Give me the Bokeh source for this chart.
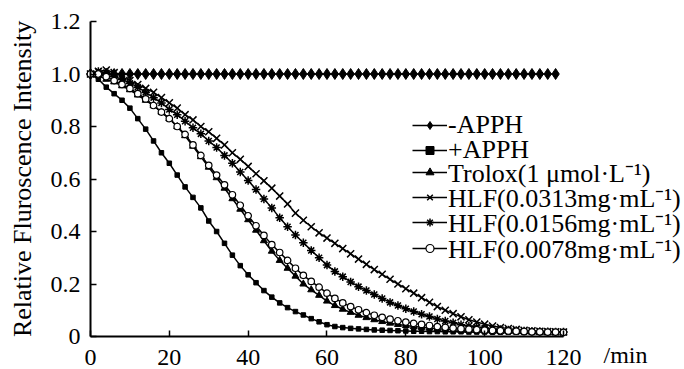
from bokeh.plotting import figure
from bokeh.models import FixedTicker, Legend, LegendItem, Label
from bokeh.embed import file_html
from bokeh.resources import INLINE

# ---------------- data ----------------
time_min = [0, 2, 4, 6, 8, 10, 12, 14, 16, 18, 20, 22, 24, 26, 28, 30, 32, 34, 36, 38, 40,
            42, 44, 46, 48, 50, 52, 54, 56, 58, 60, 62, 64, 66, 68, 70, 72, 74, 76, 78, 80,
            82, 84, 86, 88, 90, 92, 94, 96, 98, 100, 102, 104, 106, 108, 110, 112, 114, 116, 118, 120]

time_minus_appH = [0, 2, 4, 6, 8, 10, 12, 14, 16, 18, 20, 22, 24, 26, 28, 30, 32, 34, 36, 38, 40,
                   42, 44, 46, 48, 50, 52, 54, 56, 58, 60, 62, 64, 66, 68, 70, 72, 74, 76, 78, 80,
                   82, 84, 86, 88, 90, 92, 94, 96, 98, 100, 102, 104, 106, 108, 110, 112, 114, 116, 118]

minus_appH = [1.0, 1.0, 1.0, 1.0, 1.0, 1.0, 1.0, 1.0, 1.0, 1.0, 1.0, 1.0, 1.0, 1.0, 1.0,
              1.0, 1.0, 1.0, 1.0, 1.0, 1.0, 1.0, 1.0, 1.0, 1.0, 1.0, 1.0, 1.0, 1.0, 1.0,
              1.0, 1.0, 1.0, 1.0, 1.0, 1.0, 1.0, 1.0, 1.0, 1.0, 1.0, 1.0, 1.0, 1.0, 1.0,
              1.0, 1.0, 1.0, 1.0, 1.0, 1.0, 1.0, 1.0, 1.0, 1.0, 1.0, 1.0, 1.0, 1.0, 1.0]

plus_appH = [1.00, 0.98, 0.95, 0.925, 0.90, 0.87, 0.83, 0.79, 0.745, 0.70, 0.66, 0.615, 0.57, 0.53,
             0.49, 0.44, 0.40, 0.355, 0.31, 0.27, 0.235,
             0.205, 0.175, 0.15, 0.128, 0.11, 0.095, 0.082, 0.068, 0.056, 0.045, 0.038, 0.034,
             0.031, 0.029, 0.027, 0.025, 0.024, 0.023, 0.022, 0.021,
             0.020, 0.020, 0.019, 0.019, 0.018, 0.018, 0.018, 0.017, 0.017, 0.017, 0.016, 0.016,
             0.016, 0.016, 0.015, 0.015, 0.015, 0.015, 0.015, 0.015]

trolox = [1.00, 0.995, 0.98, 0.97, 0.955, 0.94, 0.92, 0.90, 0.88, 0.855, 0.83, 0.80, 0.765, 0.725,
          0.685, 0.645, 0.605, 0.565, 0.525, 0.485, 0.445,
          0.405, 0.365, 0.325, 0.29, 0.26, 0.23, 0.20, 0.178, 0.157, 0.135, 0.118, 0.104,
          0.092, 0.081, 0.072, 0.064, 0.057, 0.051, 0.046, 0.042,
          0.038, 0.035, 0.032, 0.030, 0.028, 0.026, 0.024, 0.023, 0.022, 0.021, 0.020, 0.019,
          0.019, 0.018, 0.018, 0.017, 0.017, 0.016, 0.016, 0.015]

hlf_0313 = [1.00, 1.01, 1.015, 1.005, 0.99, 0.975, 0.96, 0.945, 0.93, 0.91, 0.89, 0.87, 0.845, 0.825,
            0.80, 0.78, 0.755, 0.73, 0.70, 0.675, 0.648,
            0.62, 0.593, 0.565, 0.535, 0.505, 0.47, 0.443, 0.418, 0.395, 0.375, 0.355, 0.335,
            0.315, 0.295, 0.275, 0.255, 0.237, 0.218, 0.20, 0.182,
            0.165, 0.148, 0.13, 0.114, 0.10, 0.087, 0.075, 0.064, 0.055, 0.047, 0.04, 0.034,
            0.03, 0.027, 0.024, 0.022, 0.02, 0.019, 0.018, 0.017]

hlf_0156 = [1.00, 1.01, 1.005, 0.99, 0.98, 0.965, 0.95, 0.93, 0.91, 0.89, 0.865, 0.845, 0.82, 0.795,
            0.772, 0.745, 0.72, 0.69, 0.66, 0.627, 0.594,
            0.56, 0.524, 0.49, 0.452, 0.418, 0.387, 0.357, 0.328, 0.30, 0.272, 0.248, 0.228,
            0.208, 0.19, 0.175, 0.16, 0.145, 0.13, 0.118, 0.106,
            0.095, 0.085, 0.076, 0.067, 0.059, 0.052, 0.045, 0.04, 0.035, 0.032, 0.029, 0.027,
            0.025, 0.023, 0.021, 0.02, 0.019, 0.018, 0.017, 0.017]

hlf_0078 = [1.00, 1.00, 0.99, 0.975, 0.96, 0.945, 0.925, 0.905, 0.88, 0.855, 0.83, 0.80, 0.77, 0.73,
            0.69, 0.652, 0.615, 0.578, 0.54, 0.50, 0.46,
            0.422, 0.385, 0.35, 0.32, 0.29, 0.26, 0.233, 0.21, 0.188, 0.165, 0.145, 0.128,
            0.114, 0.102, 0.091, 0.081, 0.073, 0.066, 0.06, 0.055,
            0.05, 0.046, 0.042, 0.038, 0.035, 0.032, 0.03, 0.028, 0.026, 0.024, 0.023, 0.022,
            0.021, 0.020, 0.019, 0.018, 0.018, 0.017, 0.017, 0.016]

series_labels = ["-APPH", "+APPH", "Trolox(1 \u03bcmol\u00b7L\u207b\u00b9)",
                 "HLF(0.0313mg\u00b7mL\u207b\u00b9)", "HLF(0.0156mg\u00b7mL\u207b\u00b9)",
                 "HLF(0.0078mg\u00b7mL\u207b\u00b9)"]

x_ticks = [0, 20, 40, 60, 80, 100, 120]
y_ticks = [0, 0.2, 0.4, 0.6, 0.8, 1.0, 1.2]
y_tick_labels = ["0", "0.2", "0.4", "0.6", "0.8", "1.0", "1.2"]
x_unit_label = "/min"
y_axis_title = "Relative Fluroscence Intensity"

FONT = "Liberation Serif"
CANVAS_H = 369

# ---------------- figure ----------------
# The frame covers the whole canvas; the axes are pinned at 0 and bounded to the data span.
p = figure(width=684, height=CANVAS_H, output_backend="svg", toolbar_location=None,
           x_range=(-22.83, 150.70), y_range=(-0.1257, 1.28),
           min_border_left=0, min_border_top=0, min_border_right=0, min_border_bottom=0)
p.outline_line_color = None
p.xgrid.visible = False
p.ygrid.visible = False
p.background_fill_color = "white"
p.border_fill_color = "white"

for ax in (p.xaxis[0], p.yaxis[0]):
    ax.fixed_location = 0
    ax.axis_line_color = "black"
    ax.axis_line_width = 2
    ax.major_tick_line_color = "black"
    ax.major_tick_line_width = 1.5
    ax.major_tick_in = 6
    ax.major_tick_out = 0
    ax.minor_tick_line_color = None
    ax.major_label_text_font = FONT
    ax.major_label_text_color = "black"

p.xaxis.bounds = (0, 120)
p.xaxis.ticker = FixedTicker(ticks=x_ticks)
p.xaxis.major_label_text_font_size = "24px"
p.xaxis.major_label_standoff = 13

p.yaxis.bounds = (0, 1.2)
p.yaxis.ticker = FixedTicker(ticks=y_ticks)
p.yaxis.major_label_overrides = {t: s for t, s in zip(y_ticks, y_tick_labels)}
p.yaxis.major_label_text_font_size = "24px"
p.yaxis.major_label_standoff = 10
p.yaxis.axis_label = y_axis_title
p.yaxis.axis_label_text_font = FONT
p.yaxis.axis_label_text_font_size = "26px"
p.yaxis.axis_label_text_font_style = "normal"
p.yaxis.axis_label_text_color = "black"
p.yaxis.axis_label_standoff = 11

LW = 1.5
renderers = []

l0 = p.line(time_minus_appH, minus_appH, line_color="black", line_width=LW)
s0 = p.scatter(time_minus_appH, minus_appH, marker="diamond", size=11,
               fill_color="black", line_color="black")
renderers.append([l0, s0])

l1 = p.line(time_min, plus_appH, line_color="black", line_width=LW)
s1 = p.scatter(time_min, plus_appH, marker="square", size=4.5,
               fill_color="black", line_color="black")
renderers.append([l1, s1])

l2 = p.line(time_min, trolox, line_color="black", line_width=LW)
s2 = p.scatter(time_min, trolox, marker="triangle", size=7,
               fill_color="black", line_color="black")
renderers.append([l2, s2])

l3 = p.line(time_min, hlf_0313, line_color="black", line_width=LW)
s3 = p.scatter(time_min, hlf_0313, marker="x", size=10,
               line_color="black", line_width=1.5)
renderers.append([l3, s3])

l4 = p.line(time_min, hlf_0156, line_color="black", line_width=LW)
s4 = p.scatter(time_min, hlf_0156, marker="asterisk", size=8.5,
               line_color="black", line_width=1.5)
renderers.append([l4, s4])

l5 = p.line(time_min, hlf_0078, line_color="black", line_width=LW)
s5 = p.scatter(time_min, hlf_0078, marker="circle", size=6.5,
               fill_color="white", line_color="black", line_width=1.2)
renderers.append([l5, s5])

# one single-row legend per series so the rows can sit as tightly as in the original
LEGEND_LEFT = 412
FIRST_ROW_CENTER = 122
ROW_PITCH = 25.2
HALF_ROW = 17.5
for i, (lab, r) in enumerate(zip(series_labels, renderers)):
    row_center = FIRST_ROW_CENTER + i * ROW_PITCH
    lg = Legend(items=[LegendItem(label=lab, renderers=r)],
                location=(LEGEND_LEFT, CANVAS_H - row_center - HALF_ROW),
                padding=0, margin=0, spacing=0,
                glyph_width=35, glyph_height=20, label_standoff=1,
                label_text_font=FONT, label_text_font_size="26px",
                label_text_color="black",
                border_line_color=None, background_fill_alpha=0)
    p.add_layout(lg, "center")

p.add_layout(Label(x=130.15, y=-0.0686, text=x_unit_label, text_font=FONT,
                   text_font_size="24px", text_baseline="middle", text_align="left",
                   text_color="black"))

open("out.html", "w").write(file_html(p, INLINE))
